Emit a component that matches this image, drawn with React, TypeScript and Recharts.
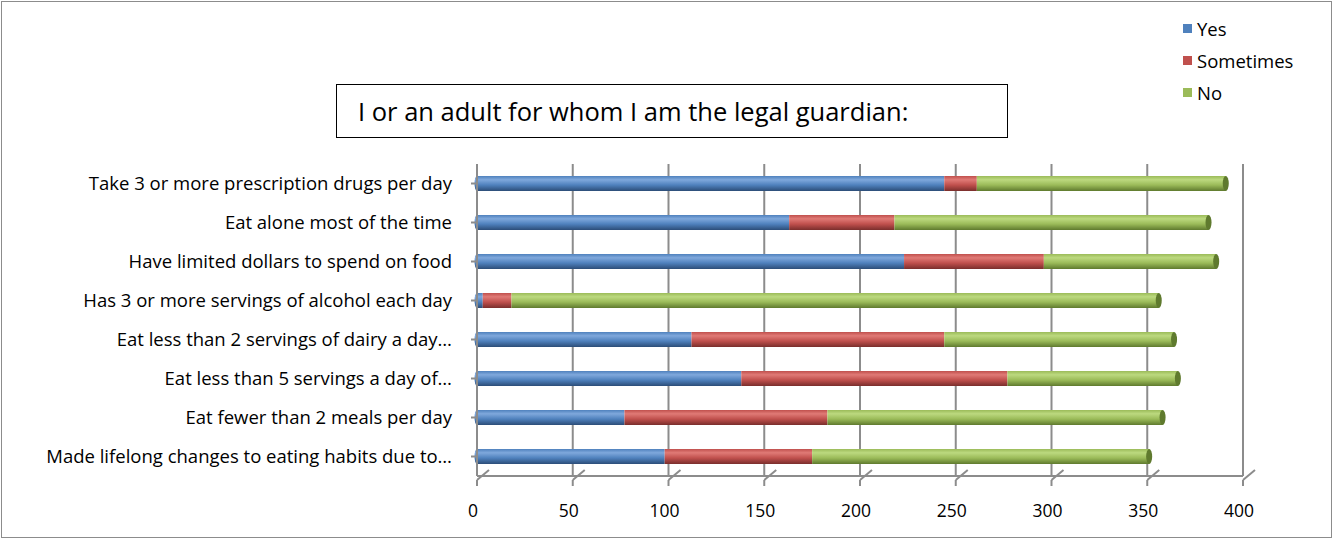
import React from 'react';
import { BarChart, Bar, XAxis, YAxis, CartesianGrid } from 'recharts';

// Survey rows, top to bottom
const categories = [
  'Take 3 or more prescription drugs per day',
  'Eat alone most of the time',
  'Have limited dollars to spend on food',
  'Has 3 or more servings of alcohol each day',
  'Eat less than 2 servings of dairy a day…',
  'Eat less than 5 servings a day of…',
  'Eat fewer than 2 meals per day',
  'Made lifelong changes to eating habits due to…',
];
const yesValues = [244, 163, 223, 3, 112, 138, 77, 98];
const sometimesValues = [17, 55, 73, 15, 132, 139, 106, 77];
const noValues = [130, 164, 90, 338, 120, 89, 175, 176];
const xTicks = [0, 50, 100, 150, 200, 250, 300, 350, 400];

const SERIES = [
  { key: 'Yes', color: '#4F81BD', light: '#7fa8dc', dark: '#2c4d78' },
  { key: 'Sometimes', color: '#C0504D', light: '#e07a76', dark: '#7a2e2c' },
  { key: 'No', color: '#9BBB59', light: '#bcd97f', dark: '#5f7a2e' },
];

const FONT = '"Open Sans", Lato, sans-serif';

const data = categories.map((name, i) => ({
  name,
  Yes: yesValues[i],
  Sometimes: sometimesValues[i],
  No: noValues[i],
}));

const makeCylinder = (idx: number) => (props: any) => {
  const { x, y, width, height } = props;
  if (!width || width <= 0) return null;
  const s = SERIES[idx];
  return (
    <g>
      <rect x={x} y={y} width={width} height={height} fill={`url(#grad-${s.key})`} />
      {idx === 0 && (
        <ellipse cx={x} cy={y + height / 2} rx={2.5} ry={height / 2} fill={`url(#grad-${s.key})`} />
      )}
      {idx === 2 && (
        <ellipse cx={x + width} cy={y + height / 2} rx={3} ry={height / 2} fill={s.dark} />
      )}
    </g>
  );
};

const XTick = (props: any) => {
  const { x, y, payload } = props;
  return (
    <g>
      <line x1={x + 12} y1={y - 14} x2={x} y2={y - 4} stroke="#8c8c8c" strokeWidth={2} />
      <line x1={x} y1={y - 4} x2={x} y2={y + 2} stroke="#8c8c8c" strokeWidth={2} />
      <text x={x - 4} y={y + 33} textAnchor="middle" fontSize={17.5} fill="#000" fontFamily={FONT}>
        {payload.value}
      </text>
    </g>
  );
};

export default function App() {
  return (
    <div style={{ position: 'absolute', left: 0, top: 0, width: 1333, height: 540, background: '#fff' }}>
      <div style={{ position: 'absolute', left: 1, top: 1, width: 1329, height: 535, border: '1px solid #8c8c8c' }} />
      <BarChart
        width={1333}
        height={540}
        data={data}
        layout="vertical"
        barSize={15}
        margin={{ top: 164, right: 90, bottom: 34, left: 0 }}
      >
        <defs>
          {SERIES.map((s) => (
            <linearGradient key={s.key} id={`grad-${s.key}`} x1="0" y1="0" x2="0" y2="1">
              <stop offset="0%" stopColor={s.color} />
              <stop offset="25%" stopColor={s.light} />
              <stop offset="60%" stopColor={s.color} />
              <stop offset="100%" stopColor={s.dark} />
            </linearGradient>
          ))}
        </defs>
        <CartesianGrid horizontal={false} stroke="#8c8c8c" strokeWidth={2} />
        <XAxis
          type="number"
          domain={[0, 400]}
          ticks={xTicks}
          interval={0}
          height={30}
          axisLine={{ stroke: '#8c8c8c', strokeWidth: 2 }}
          tickLine={false}
          tick={<XTick />}
        />
        <YAxis
          type="category"
          dataKey="name"
          width={477}
          axisLine={{ stroke: '#8c8c8c', strokeWidth: 2 }}
          tickLine={{ stroke: '#8c8c8c', strokeWidth: 2 }}
          tickSize={6}
          tickMargin={19}
          interval={0}
          tick={{ fontSize: 18.5, fill: '#000', fontFamily: FONT }}
        />
        {SERIES.map((s, i) => (
          <Bar key={s.key} dataKey={s.key} stackId="a" fill={s.color} shape={makeCylinder(i)} isAnimationActive={false} />
        ))}
      </BarChart>
      <div style={{ position: 'absolute', left: 1183, top: 12, fontFamily: FONT, fontSize: 18.5 }}>
        {SERIES.map((s) => (
          <div key={s.key} style={{ display: 'flex', alignItems: 'center', height: 32 }}>
            <span style={{ display: 'inline-block', width: 9, height: 9, background: s.color, marginRight: 5 }} />
            <span>{s.key}</span>
          </div>
        ))}
      </div>
      <div
        style={{
          position: 'absolute',
          left: 336,
          top: 84,
          width: 672,
          height: 54,
          boxSizing: 'border-box',
          border: '1px solid #000',
          background: '#fff',
          fontFamily: FONT,
          fontSize: 25.5,
          lineHeight: '52px',
          paddingLeft: 21,
        }}
      >
        I or an adult for whom I am the legal guardian:
      </div>
    </div>
  );
}
